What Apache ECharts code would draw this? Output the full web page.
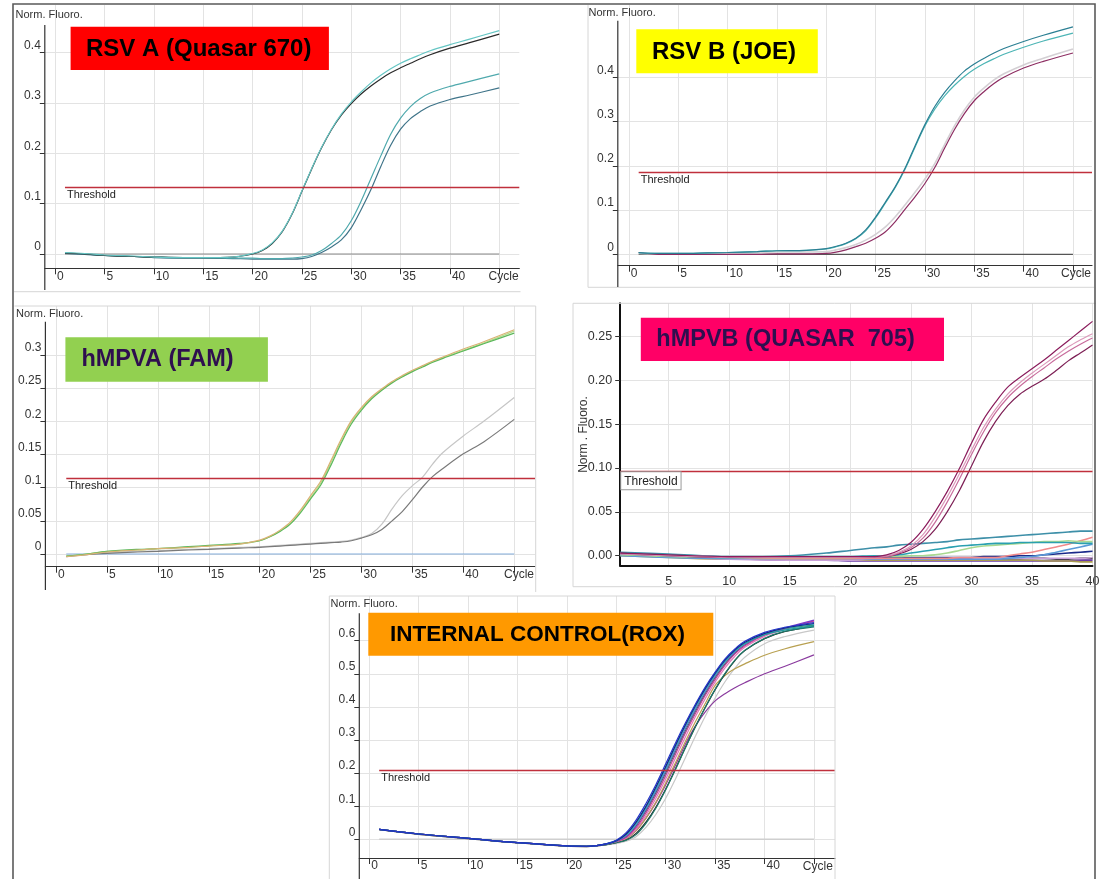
<!DOCTYPE html>
<html><head><meta charset="utf-8">
<script src="https://cdn.jsdelivr.net/npm/echarts@6/dist/echarts.min.js"></script>
<style>html,body{margin:0;padding:0;background:#fff}#c{width:1099px;height:879px}</style>
</head><body><div id="c"></div>
<script>
const FONT = '"Liberation Sans", Arial, sans-serif';

// ---------- tick values ----------
const X_TICKS = [0,5,10,15,20,25,30,35,40,45];
const X_TICKS_HMPVB = [5,10,15,20,25,30,35,40];
const X_LAST_LABEL = 'Cycle';
const Y_TICKS_RSVA = [0,0.1,0.2,0.3,0.4];
const Y_TICKS_RSVB = [0,0.1,0.2,0.3,0.4];
const Y_TICKS_HMPVA = [0,0.05,0.1,0.15,0.2,0.25,0.3];
const Y_TICKS_HMPVB = [0,0.05,0.1,0.15,0.2,0.25];
const Y_TICKS_IC = [0,0.1,0.2,0.3,0.4,0.5,0.6];

// ---------- thresholds ----------
const THR_RSVA = 0.132, THR_RSVB = 0.1846, THR_HMPVA = 0.114, THR_HMPVB = 0.0961, THR_IC = 0.209;
const BASE_CYC = [1,45];
const BASE_VAL = [0,0];

// ---------- RSV A (Quasar 670) ----------
const RSVA_CYC = [1,3,5,8,10,13,15,18,20,21,22,23,24,25,26,27,28,29,30,31,32,33,34,35,36,37,38,40,42,45];
const RSVA_1 = [0.003,0.001,-0.002,-0.004,-0.006,-0.007,-0.007,-0.006,0.001,0.008,0.022,0.045,0.080,0.125,0.170,0.212,0.248,0.278,0.302,0.322,0.340,0.355,0.368,0.379,0.388,0.396,0.404,0.416,0.427,0.444];
const RSVA_2 = [0.002,0.000,-0.003,-0.005,-0.006,-0.007,-0.007,-0.006,0.000,0.007,0.021,0.044,0.079,0.124,0.169,0.211,0.247,0.276,0.299,0.318,0.334,0.348,0.360,0.370,0.379,0.388,0.396,0.409,0.420,0.437];
const RSVA_3 = [0.002,0.000,-0.003,-0.005,-0.006,-0.007,-0.007,-0.008,-0.008,-0.009,-0.009,-0.009,-0.008,-0.006,-0.002,0.007,0.021,0.038,0.066,0.105,0.150,0.195,0.238,0.270,0.293,0.309,0.320,0.333,0.343,0.358];
const RSVA_4 = [0.001,-0.001,-0.003,-0.005,-0.007,-0.008,-0.008,-0.009,-0.010,-0.010,-0.010,-0.010,-0.010,-0.009,-0.005,0.003,0.014,0.028,0.052,0.088,0.128,0.174,0.216,0.248,0.269,0.283,0.294,0.307,0.316,0.330];

// ---------- RSV B (JOE) ----------
const RSVB_CYC = [1,3,5,8,10,13,15,18,20,21,22,23,24,25,26,27,28,29,30,31,32,33,34,35,36,37,38,40,42,45];
const RSVB_1 = [0.004,0.002,0.002,0.003,0.004,0.006,0.008,0.009,0.013,0.018,0.025,0.036,0.055,0.084,0.118,0.153,0.195,0.245,0.293,0.334,0.366,0.392,0.414,0.430,0.443,0.455,0.465,0.481,0.495,0.514];
const RSVB_2 = [0.003,0.002,0.002,0.003,0.004,0.006,0.008,0.009,0.012,0.017,0.024,0.035,0.053,0.082,0.116,0.151,0.193,0.242,0.290,0.328,0.358,0.382,0.402,0.418,0.431,0.442,0.452,0.468,0.482,0.500];
const RSVB_3 = [0.002,0.001,0.001,0.002,0.003,0.004,0.005,0.005,0.006,0.010,0.015,0.022,0.032,0.045,0.062,0.085,0.112,0.140,0.170,0.205,0.248,0.290,0.326,0.355,0.376,0.394,0.408,0.428,0.443,0.464];
const RSVB_4 = [0.004,0.000,0.000,0.000,0.000,0.000,0.001,0.001,0.002,0.005,0.010,0.017,0.025,0.036,0.051,0.074,0.102,0.130,0.160,0.196,0.240,0.282,0.318,0.347,0.368,0.386,0.400,0.421,0.436,0.455];

// ---------- hMPVA (FAM) ----------
const HMPVA_CYC = [1,3,5,8,10,13,15,18,20,21,22,23,24,25,26,27,28,29,30,31,32,33,34,35,36,37,38,40,42,45];
const HMPVA_G1 = [-0.003,0.000,0.004,0.007,0.008,0.011,0.013,0.016,0.020,0.026,0.034,0.045,0.062,0.083,0.104,0.134,0.167,0.196,0.217,0.234,0.247,0.258,0.267,0.275,0.282,0.289,0.295,0.306,0.317,0.333];
const HMPVA_G2 = [-0.004,-0.001,0.003,0.006,0.008,0.010,0.012,0.015,0.021,0.027,0.036,0.048,0.066,0.088,0.110,0.141,0.173,0.201,0.221,0.237,0.249,0.260,0.269,0.277,0.284,0.291,0.297,0.309,0.320,0.338];
const HMPVA_G3 = [-0.003,0.000,0.004,0.006,0.008,0.010,0.012,0.015,0.020,0.026,0.035,0.046,0.064,0.085,0.107,0.138,0.170,0.199,0.219,0.236,0.248,0.259,0.268,0.276,0.283,0.290,0.296,0.307,0.318,0.336];
const HMPVA_GR1 = [-0.003,-0.001,0.002,0.004,0.005,0.007,0.008,0.010,0.011,0.012,0.013,0.014,0.015,0.016,0.017,0.018,0.019,0.021,0.025,0.031,0.045,0.068,0.088,0.103,0.116,0.136,0.153,0.178,0.200,0.236];
const HMPVA_GR2 = [-0.004,-0.001,0.001,0.003,0.004,0.006,0.007,0.009,0.010,0.011,0.012,0.013,0.014,0.015,0.016,0.017,0.018,0.020,0.024,0.029,0.037,0.050,0.064,0.082,0.101,0.117,0.129,0.151,0.169,0.203];

// ---------- hMPVB (QUASAR 705) ----------
const HMPVB_CYC = [1,5,10,15,18,20,22,23,24,25,26,27,28,29,30,31,32,33,34,35,36,37,38,39,40];
const HMPVB_M1 = [0.003,0.001,-0.001,-0.001,-0.001,-0.001,-0.001,0.001,0.006,0.015,0.030,0.050,0.073,0.099,0.128,0.155,0.175,0.192,0.203,0.213,0.223,0.234,0.245,0.256,0.267];
const HMPVB_M2 = [0.002,0.000,-0.001,-0.002,-0.002,-0.002,-0.001,0.000,0.004,0.011,0.024,0.044,0.067,0.093,0.120,0.146,0.167,0.184,0.197,0.208,0.218,0.228,0.238,0.246,0.253];
const HMPVB_M3 = [0.002,0.000,-0.002,-0.002,-0.002,-0.002,-0.002,-0.001,0.003,0.009,0.020,0.038,0.061,0.087,0.115,0.141,0.163,0.180,0.193,0.204,0.214,0.224,0.233,0.241,0.248];
const HMPVB_M4 = [0.003,0.000,-0.002,-0.002,-0.002,-0.002,-0.002,-0.001,0.002,0.007,0.016,0.030,0.050,0.074,0.102,0.130,0.153,0.171,0.184,0.193,0.201,0.211,0.222,0.231,0.240];
const HMPVB_N1 = [0.004,0.002,-0.001,0.000,0.003,0.006,0.009,0.010,0.012,0.013,0.014,0.015,0.016,0.018,0.019,0.020,0.021,0.022,0.023,0.024,0.025,0.026,0.027,0.028,0.028];
const HMPVB_N2 = [0.002,0.000,-0.002,-0.001,-0.001,-0.001,0.000,0.000,0.001,0.003,0.005,0.007,0.009,0.011,0.012,0.013,0.014,0.014,0.015,0.015,0.015,0.015,0.015,0.014,0.014];
const HMPVB_N3 = [0.001,-0.001,-0.002,-0.002,-0.002,-0.002,-0.001,-0.001,-0.001,0.000,0.000,0.001,0.003,0.006,0.009,0.011,0.012,0.013,0.014,0.015,0.016,0.016,0.017,0.016,0.016];
const HMPVB_N4 = [0.003,0.000,-0.002,-0.003,-0.003,-0.003,-0.003,-0.003,-0.003,-0.003,-0.003,-0.003,-0.003,-0.002,-0.002,-0.002,-0.002,0.000,0.002,0.004,0.007,0.010,0.013,0.017,0.021];
const HMPVB_N5 = [0.000,-0.002,-0.003,-0.003,-0.003,-0.003,-0.004,-0.004,-0.004,-0.004,-0.004,-0.004,-0.004,-0.004,-0.004,-0.004,-0.004,-0.003,-0.002,-0.001,0.001,0.004,0.007,0.010,0.013];
const HMPVB_N6 = [0.002,0.000,-0.002,-0.002,-0.002,-0.002,-0.002,-0.002,-0.002,-0.002,-0.002,-0.002,-0.002,-0.002,-0.002,-0.001,-0.001,-0.001,0.000,0.000,0.001,0.002,0.003,0.004,0.005];
const HMPVB_N7 = [0.001,-0.001,-0.003,-0.004,-0.004,-0.005,-0.004,-0.004,-0.004,-0.004,-0.005,-0.004,-0.004,-0.004,-0.004,-0.003,-0.004,-0.004,-0.004,-0.003,-0.003,-0.004,-0.004,-0.003,-0.003];
const HMPVB_N8 = [0.003,0.000,-0.003,-0.005,-0.005,-0.006,-0.006,-0.006,-0.006,-0.006,-0.006,-0.006,-0.006,-0.006,-0.006,-0.006,-0.006,-0.006,-0.006,-0.006,-0.006,-0.006,-0.006,-0.005,-0.005];
const HMPVB_N9 = [0.000,-0.002,-0.004,-0.004,-0.004,-0.005,-0.005,-0.005,-0.005,-0.005,-0.005,-0.005,-0.005,-0.005,-0.005,-0.005,-0.005,-0.005,-0.005,-0.005,-0.006,-0.006,-0.006,-0.007,-0.007];
const HMPVB_N10 = [0.002,-0.001,-0.004,-0.005,-0.005,-0.005,-0.004,-0.004,-0.004,-0.004,-0.004,-0.003,-0.003,-0.003,-0.003,-0.003,-0.003,-0.003,-0.003,-0.003,-0.003,-0.003,-0.003,-0.003,-0.002];

// ---------- INTERNAL CONTROL (ROX) ----------
const IC_CYC = [1,5,10,15,20,22,23,24,25,26,27,28,29,30,31,32,33,34,35,36,37,38,40,42,45];
const IC_GRAY   = [0.029,0.015,0.002,-0.011,-0.021,-0.022,-0.020,-0.017,-0.013,-0.006,0.008,0.036,0.075,0.124,0.183,0.247,0.311,0.372,0.427,0.476,0.517,0.550,0.591,0.612,0.632];
const IC_BLACK  = [0.029,0.015,0.002,-0.011,-0.021,-0.022,-0.020,-0.016,-0.010,-0.002,0.018,0.052,0.097,0.152,0.214,0.278,0.340,0.398,0.452,0.500,0.540,0.570,0.606,0.627,0.645];
const IC_OLIVE  = [0.030,0.016,0.003,-0.010,-0.020,-0.021,-0.019,-0.015,-0.008,0.002,0.026,0.064,0.112,0.170,0.232,0.296,0.355,0.410,0.465,0.495,0.515,0.530,0.556,0.575,0.597];
const IC_PURPLE = [0.030,0.016,0.003,-0.010,-0.020,-0.021,-0.019,-0.015,-0.008,0.002,0.026,0.064,0.110,0.165,0.225,0.288,0.342,0.385,0.418,0.440,0.458,0.473,0.500,0.522,0.557];
const IC_DGREEN = [0.030,0.016,0.003,-0.010,-0.020,-0.021,-0.019,-0.016,-0.010,-0.003,0.014,0.048,0.094,0.150,0.212,0.277,0.340,0.399,0.453,0.501,0.541,0.571,0.607,0.628,0.642];
const IC_PINK   = [0.030,0.016,0.003,-0.010,-0.020,-0.021,-0.019,-0.015,-0.007,0.004,0.030,0.072,0.123,0.182,0.246,0.310,0.370,0.425,0.475,0.518,0.553,0.580,0.613,0.634,0.658];
const IC_GREEN  = [0.030,0.016,0.003,-0.010,-0.020,-0.021,-0.019,-0.014,-0.005,0.008,0.040,0.086,0.140,0.200,0.265,0.328,0.386,0.440,0.488,0.530,0.563,0.588,0.618,0.636,0.648];
const IC_MAGENTA= [0.030,0.016,0.003,-0.010,-0.020,-0.021,-0.019,-0.014,-0.006,0.006,0.035,0.080,0.133,0.193,0.258,0.322,0.380,0.435,0.483,0.526,0.560,0.585,0.617,0.636,0.660];
const IC_VIOLET = [0.030,0.016,0.003,-0.010,-0.020,-0.021,-0.019,-0.014,-0.005,0.010,0.043,0.090,0.145,0.207,0.272,0.335,0.392,0.446,0.493,0.535,0.566,0.590,0.620,0.638,0.662];
const IC_CYAN   = [0.030,0.016,0.003,-0.010,-0.020,-0.021,-0.019,-0.013,-0.004,0.012,0.046,0.094,0.150,0.212,0.277,0.340,0.397,0.450,0.496,0.537,0.568,0.591,0.620,0.637,0.650];
const IC_TEAL   = [0.030,0.016,0.003,-0.010,-0.020,-0.021,-0.019,-0.015,-0.005,0.015,0.050,0.098,0.155,0.218,0.283,0.345,0.402,0.455,0.500,0.540,0.570,0.592,0.618,0.632,0.645];
const IC_NAVY   = [0.030,0.016,0.003,-0.010,-0.020,-0.021,-0.019,-0.014,-0.004,0.016,0.052,0.100,0.158,0.220,0.285,0.347,0.404,0.456,0.502,0.542,0.572,0.595,0.622,0.638,0.652];
const IC_BLUE   = [0.030,0.016,0.003,-0.010,-0.020,-0.021,-0.019,-0.014,-0.003,0.020,0.058,0.108,0.165,0.228,0.292,0.352,0.408,0.460,0.505,0.545,0.575,0.598,0.625,0.640,0.655];

// ---------- helpers ----------
const THR_COLOR = '#c0303c';
function pts(cyc, vals){ return cyc.map((c,i)=>[c, vals[i]]); }
function curve(gi, cyc, vals, color, w){
  return {type:'line', xAxisIndex:gi, yAxisIndex:gi, data:pts(cyc,vals), symbol:'none', showSymbol:false,
    smooth:0.35, silent:true, animation:false, color:color, lineStyle:{color:color, width:w||1.2}, z:3};
}
function withThreshold(s, thr, startC, endC, boxed){
  const ls = {color:THR_COLOR, width:1.3, type:'solid', opacity:1};
  s.markLine = {silent:true, animation:false, symbol:['none','none'],
    itemStyle:{color:THR_COLOR}, lineStyle:ls,
    label:Object.assign({show:true, position:'insideStartBottom', formatter:'Threshold', color:'#222',
      fontSize:11, fontFamily:FONT, distance:2},
      boxed ? {backgroundColor:'#fff', borderColor:'#9a9a9a', borderWidth:1, padding:[3,3,2,3], distance:1, fontSize:12} : {}),
    data:[[{coord:[startC, thr], lineStyle:ls, itemStyle:{color:THR_COLOR}},{coord:[endC, thr]}]]};
  return s;
}
const GRID_LINE = {show:true, lineStyle:{color:'#e3e3e3', width:1}};
function xAxisStd(gi, min, max){
  return {type:'value', gridIndex:gi, min:min, max:max,
    axisLine:{show:true, onZero:false, lineStyle:{color:'#333', width:1.2}},
    axisTick:{show:true, customValues:X_TICKS, length:6, lineStyle:{color:'#333'}},
    axisLabel:{customValues:X_TICKS, align:'left', margin:2, padding:[0,0,0,2], fontSize:12, fontFamily:FONT, color:'#333',
      formatter:(v)=> v===45 ? '' : String(v)},
    splitLine:GRID_LINE};
}
function yAxisStd(gi, min, max, ticks){
  return {type:'value', gridIndex:gi, min:min, max:max,
    axisLine:{show:true, onZero:false, lineStyle:{color:'#333', width:1.2, opacity:0}},
    axisTick:{show:true, inside:false, customValues:ticks, length:5, lineStyle:{color:'#333', opacity:1, width:1}},
    axisLabel:{customValues:ticks, align:'right', verticalAlign:'bottom', margin:4, padding:[0,0,1,0], fontSize:12, fontFamily:FONT, color:'#333',
      formatter:(v)=> String(+v.toFixed(2))},
    splitLine:GRID_LINE};
}

// grid boxes reach the top of each screenshot panel so vertical grid lines run up to it
const grids = [
  {left:44.8, top:5, width:474.5, height:263.3},
  {left:617.8, top:5, width:474.2, height:260.7},
  {left:45.4, top:306, width:489.6, height:260.7},
  {left:620.2, top:303.3, width:472.3, height:262.4},
  {left:359.3, top:596, width:475.7, height:262}
].map(g=>Object.assign({containLabel:false, outerBoundsMode:'none', show:false}, g));

const XR = [[-1.043,47.03],[-1.115,46.93],[-1.05,47.04],[1,40],[-1.01,47.13]];

const xAxes = [
  xAxisStd(0, XR[0][0], XR[0][1]),
  xAxisStd(1, XR[1][0], XR[1][1]),
  xAxisStd(2, XR[2][0], XR[2][1]),
  {type:'value', gridIndex:3, min:XR[3][0], max:XR[3][1],
    axisLine:{show:true, onZero:false, lineStyle:{color:'#111', width:2}},
    axisTick:{show:false, customValues:X_TICKS_HMPVB},
    axisLabel:{customValues:X_TICKS_HMPVB, margin:9, fontSize:12.5, fontFamily:FONT, color:'#333'},
    splitLine:GRID_LINE},
  xAxisStd(4, XR[4][0], XR[4][1])
];
const yAxes = [
  yAxisStd(0, -0.0284, 0.4948, Y_TICKS_RSVA),
  yAxisStd(1, -0.0258, 0.5634, Y_TICKS_RSVB),
  yAxisStd(2, -0.01915, 0.3739, Y_TICKS_HMPVA),
  {type:'value', gridIndex:3, min:-0.0114, max:0.2876,
    name:'Norm . Fluoro.', nameLocation:'middle', nameGap:31, nameRotate:90, nameMoveOverlap:false,
    nameTextStyle:{fontSize:12, fontFamily:FONT, color:'#333'},
    axisLine:{show:true, onZero:false, lineStyle:{color:'#111', width:2}},
    axisTick:{show:true, customValues:Y_TICKS_HMPVB, length:5, lineStyle:{color:'#333'}},
    axisLabel:{customValues:Y_TICKS_HMPVB, margin:8, fontSize:12.5, fontFamily:FONT, color:'#333',
      formatter:(v)=> v.toFixed(2)},
    splitLine:GRID_LINE},
  yAxisStd(4, -0.0565, 0.735, Y_TICKS_IC)
];

const series = [];
// Panel 1
series.push(withThreshold(curve(0, BASE_CYC, BASE_VAL, '#8a8a8a', 1.2), THR_RSVA, 1, XR[0][1]));
series.push(curve(0, RSVA_CYC, RSVA_4, '#3f7489'));
series.push(curve(0, RSVA_CYC, RSVA_3, '#4fa9ad'));
series.push(curve(0, RSVA_CYC, RSVA_2, '#2a2a2a'));
series.push(curve(0, RSVA_CYC, RSVA_1, '#66c6c4'));
// Panel 2
series.push(withThreshold(curve(1, BASE_CYC, BASE_VAL, '#555555', 1.2), THR_RSVB, 1, XR[1][1]));
series.push(curve(1, RSVB_CYC, RSVB_3, '#d4d0d4', 1.6));
series.push(curve(1, RSVB_CYC, RSVB_4, '#8d2d62'));
series.push(curve(1, RSVB_CYC, RSVB_2, '#4cb5b5'));
series.push(curve(1, RSVB_CYC, RSVB_1, '#2b7f93'));
// Panel 3
series.push(withThreshold(curve(2, BASE_CYC, BASE_VAL, '#84aedb', 1.2), THR_HMPVA, 1, XR[2][1]));
series.push(curve(2, HMPVA_CYC, HMPVA_GR1, '#c6c6c6'));
series.push(curve(2, HMPVA_CYC, HMPVA_GR2, '#7a7a7a'));
series.push(curve(2, HMPVA_CYC, HMPVA_G3, '#b4dc8c'));
series.push(curve(2, HMPVA_CYC, HMPVA_G1, '#5cb85c'));
series.push(curve(2, HMPVA_CYC, HMPVA_G2, '#d9b274'));
// Panel 4
const noise = [[HMPVB_N7,'#222222'],[HMPVB_N8,'#6a3aa8'],[HMPVB_N9,'#a89a50'],[HMPVB_N10,'#c8a0d8'],[HMPVB_N6,'#1a2a8a'],
  [HMPVB_N5,'#5a9ad8'],[HMPVB_N4,'#f08a8a'],[HMPVB_N3,'#a8d890'],[HMPVB_N2,'#2aa0b0'],[HMPVB_N1,'#3d8fa8']];
noise.forEach(n=>series.push(curve(3, HMPVB_CYC, n[0], n[1], 1.6)));
series.push(withThreshold(curve(3, HMPVB_CYC, HMPVB_M4, '#7d1f55'), THR_HMPVB, XR[3][0], XR[3][1], true));
series.push(curve(3, HMPVB_CYC, HMPVB_M3, '#c86c9c'));
series.push(curve(3, HMPVB_CYC, HMPVB_M2, '#dc9abb'));
series.push(curve(3, HMPVB_CYC, HMPVB_M1, '#8b1c5c'));
// Panel 5
series.push(withThreshold(curve(4, BASE_CYC, BASE_VAL, '#cfcfcf', 1.4), THR_IC, 1, XR[4][1]));
[[IC_GRAY,'#c8c8c8'],[IC_PURPLE,'#8a3a9e'],[IC_OLIVE,'#b8a050'],[IC_BLACK,'#222222'],[IC_DGREEN,'#1f7a6a'],
 [IC_PINK,'#e07ab8'],[IC_GREEN,'#2e8b57'],[IC_MAGENTA,'#c0399a'],[IC_VIOLET,'#7a3cc8'],[IC_CYAN,'#37b5c8'],
 [IC_TEAL,'#1e9aa0'],[IC_NAVY,'#1a237e'],[IC_BLUE,'#2436c8']].forEach(c=>series.push(curve(4, IC_CYC, c[0], c[1])));

// ---------- decoration (layout only) ----------
const G = [];
function ln(x1,y1,x2,y2,color,w,z){ G.push({type:'line', silent:true, z:z||50, shape:{x1,y1,x2,y2}, style:{stroke:color, lineWidth:w}}); }
function txt(x,y,t,font,fill,align){ G.push({type:'text', silent:true, z:60, x:x, y:y, style:{text:t, font:font, fill:fill, align:align||'left', verticalAlign:'middle'}}); }
function box(x,y,w,h,fill){ G.push({type:'rect', silent:true, z:55, shape:{x,y,width:w,height:h}, style:{fill:fill}}); }
// panel borders
ln(14,291.7,520.5,291.7,'#d6d6d6',1);
ln(588,5,588,287.3,'#d6d6d6',1); ln(588,287.3,1094,287.3,'#d6d6d6',1);
ln(14.5,306,535.7,306,'#d6d6d6',1); ln(535.7,306,535.7,592,'#d6d6d6',1);
ln(573,303.3,1096,303.3,'#d6d6d6',1); ln(573,303.3,573,586.7,'#d6d6d6',1); ln(573,586.7,1096,586.7,'#d6d6d6',1);
ln(329.3,596,835,596,'#d6d6d6',1); ln(329.3,596,329.3,879,'#d6d6d6',1); ln(835,596,835,879,'#d6d6d6',1);
// vertical axis lines (start below the caption, run past the x axis)
ln(44.8,25,44.8,290,'#333',1.2); ln(617.8,20.7,617.8,287,'#333',1.2);
ln(45.4,321.7,45.4,590,'#333',1.2); ln(359.3,613.3,359.3,879,'#333',1.2);
// outer frame
G.push({type:'rect', silent:true, z:200, shape:{x:13,y:4,width:1082,height:900}, style:{fill:'none', stroke:'#5a5a5a', lineWidth:1.6}});
// axis captions
const SMALL = '11px ' + FONT;
const TICKF = '12px ' + FONT;
txt(15.5,15,'Norm. Fluoro.',SMALL,'#333');
txt(588.5,12.7,'Norm. Fluoro.',SMALL,'#333');
txt(16,314.3,'Norm. Fluoro.',SMALL,'#333');
txt(330.5,604.3,'Norm. Fluoro.',SMALL,'#333');
// x axis end captions
txt(503.6,276.6,X_LAST_LABEL,TICKF,'#333','center');
txt(1076,274,X_LAST_LABEL,TICKF,'#333','center');
txt(519,575,X_LAST_LABEL,TICKF,'#333','center');
txt(817.8,866.3,X_LAST_LABEL,TICKF,'#333','center');
// title boxes
box(70.6,26.7,258.3,43.3,'#ff0000');   txt(86,49,'RSV A (Quasar 670)','bold 24px '+FONT,'#000');
box(636.3,29.3,181.5,44,'#ffff00');    txt(652,52,'RSV B (JOE)','bold 24px '+FONT,'#000');
box(65.4,337.3,202.5,44.4,'#92d050');  txt(81.4,360,'hMPVA (FAM)','bold 23.5px '+FONT,'#2e0f4f');
box(640.8,317.7,303.2,43.3,'#ff0066'); txt(656.3,339.5,'hMPVB (QUASAR  705)','bold 23.5px '+FONT,'#2e0f4f');
box(368.3,612.7,345,43,'#ff9900');     txt(390,635,'INTERNAL CONTROL(ROX)','bold 22.5px '+FONT,'#000');

const chart = echarts.init(document.getElementById('c'), null, {renderer:'canvas', width:1099, height:879});
chart.setOption({
  backgroundColor:'#ffffff', animation:false,
  textStyle:{fontFamily:FONT},
  grid:grids, xAxis:xAxes, yAxis:yAxes, series:series, graphic:{elements:G}
});
</script></body></html>
